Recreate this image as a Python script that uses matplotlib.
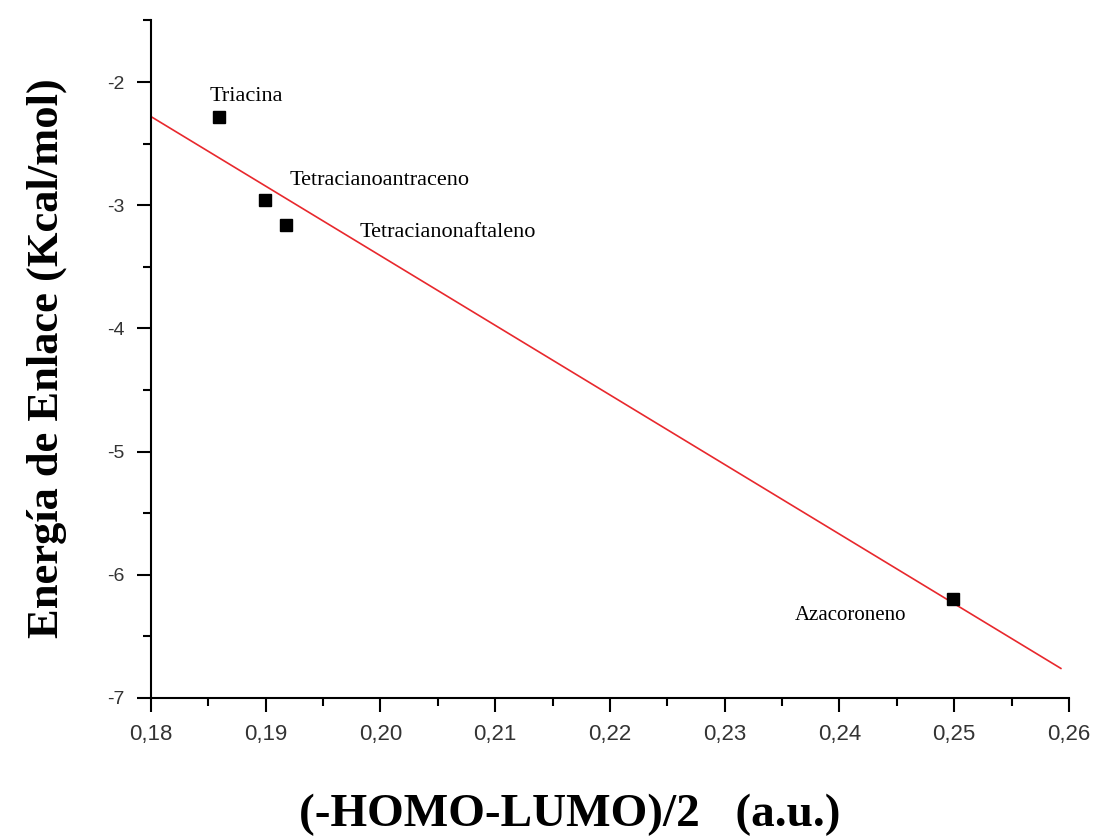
import matplotlib
matplotlib.use("Agg")
import matplotlib.pyplot as plt
from matplotlib.ticker import MultipleLocator, FuncFormatter

plt.rcParams["axes.unicode_minus"] = False

# Data
compounds = ["Triacina", "Tetracianoantraceno", "Tetracianonaftaleno", "Azacoroneno"]
gap = [0.1859, 0.1899, 0.1918, 0.2499]
energy = [-2.28, -2.96, -3.16, -6.20]

# linear fit drawn in the figure (end points)
fit_x = [0.180, 0.2593]
fit_y = [-2.28, -6.76]

# label anchor positions (data coords)
label_x = [0.18514, 0.19210, 0.19819, 0.24580]
label_y = [-2.154, -2.836, -3.258, -6.367]
label_ha = ["left", "left", "left", "right"]
label_size = [16, 16, 16, 15]

fig = plt.figure(figsize=(10.98, 8.36), dpi=100)
ax = fig.add_axes([0.1375, 0.1651, 0.836, 0.8104])

ax.plot(fit_x, fit_y, color="#e8282d", lw=1.2, zorder=2)
ax.plot(gap, energy, "s", color="black", markersize=9, zorder=3)

for name, lx, ly, ha, fs in zip(compounds, label_x, label_y, label_ha, label_size):
    ax.text(lx, ly, name, ha=ha, va="baseline", fontsize=fs,
            family="Liberation Serif")

ax.set_xlim(0.18, 0.26)
ax.set_ylim(-7, -1.5)

ax.spines["top"].set_visible(False)
ax.spines["right"].set_visible(False)
ax.spines["left"].set_linewidth(1.5)
ax.spines["bottom"].set_linewidth(1.5)

ax.xaxis.set_major_locator(MultipleLocator(0.01))
ax.xaxis.set_minor_locator(MultipleLocator(0.005))
ax.yaxis.set_major_locator(MultipleLocator(1))
ax.yaxis.set_minor_locator(MultipleLocator(0.5))

ax.xaxis.set_major_formatter(FuncFormatter(lambda v, p: f"{v:.2f}".replace(".", ",")))
ax.yaxis.set_major_formatter(FuncFormatter(lambda v, p: f"{v:.0f}"))

ax.tick_params(which="major", direction="out", length=10, width=1.5)
ax.tick_params(which="minor", direction="out", length=6, width=1.5)
ax.tick_params(axis="x", which="major", labelsize=16, pad=9, labelcolor="#333333")
ax.tick_params(axis="y", which="major", labelsize=14, pad=9, labelcolor="#333333")
for lab in ax.get_xticklabels() + ax.get_yticklabels():
    lab.set_family("Liberation Sans")

fig.text(0.519, 0.012, "(-HOMO-LUMO)/2   (a.u.)", ha="center", va="baseline",
         fontsize=34, fontweight="bold", family="Liberation Serif")
fig.text(0.043, 0.572, "Energía de Enlace (Kcal/mol)", ha="center", va="center",
         rotation=90, fontsize=32, fontweight="bold", family="Liberation Serif")

fig.savefig("out.png", dpi=100)
